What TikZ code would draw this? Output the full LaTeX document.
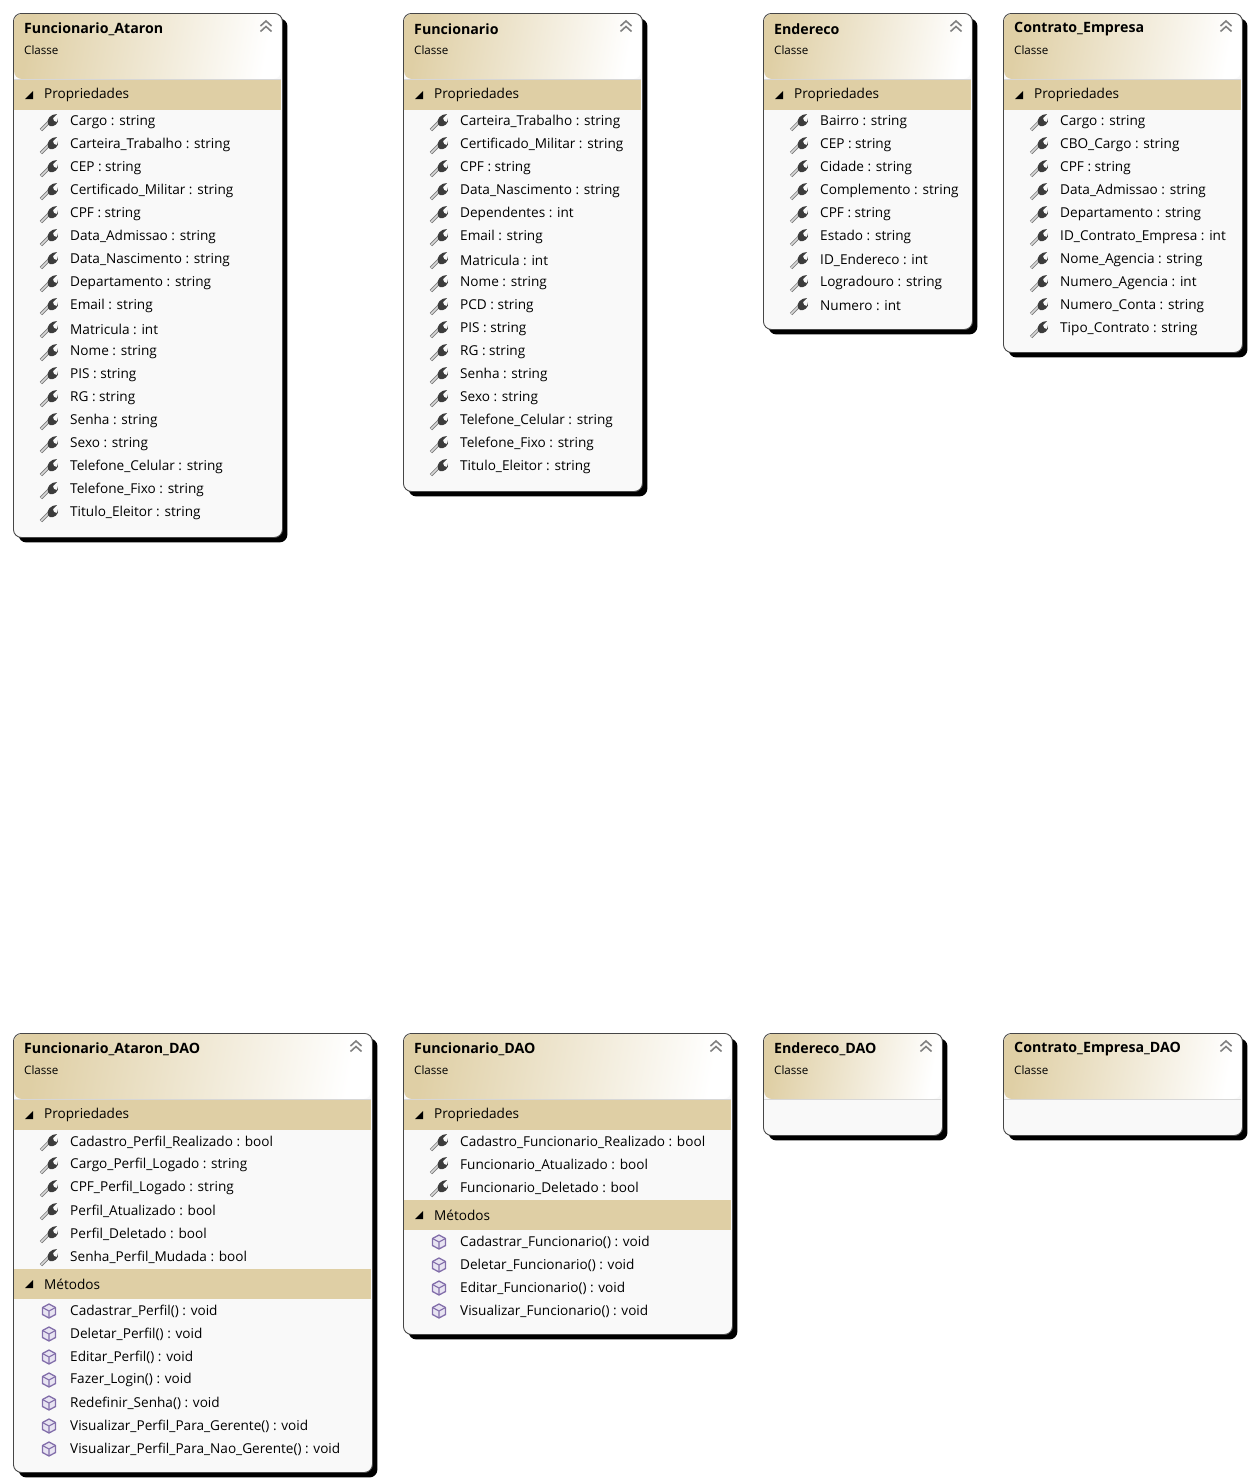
\documentclass[tikz,border=0pt]{standalone}
\usepackage{fontspec}
\setmainfont{Open Sans}
\usepackage{tikz}
\usetikzlibrary{positioning,shadows,calc}
\definecolor{hdrtan}{RGB}{223,207,165}
\definecolor{bodygray}{RGB}{249,249,249}
\definecolor{boxline}{RGB}{70,70,70}
\definecolor{rulegray}{RGB}{215,215,215}
\definecolor{cubeline}{RGB}{130,110,170}
\definecolor{cubefill}{RGB}{232,228,242}
\definecolor{wrenchgray}{RGB}{60,60,60}

\tikzset{
  classbox/.style={draw=boxline, fill=bodygray, line width=0.9pt, rounded corners=8pt, anchor=north west, inner sep=0pt,
    general shadow={fill=black, opacity=1, shadow xshift=5pt, shadow yshift=-5pt}},
  band/.style={fill=hdrtan, anchor=north west, inner sep=0pt, minimum height=30pt},
  titletxt/.style={anchor=west, inner sep=0pt, font=\fontsize{14.2}{16}\selectfont\bfseries},
  kindtxt/.style={anchor=west, inner sep=0pt, font=\fontsize{11.6}{14}\selectfont},
  bandtxt/.style={anchor=west, inner sep=0pt, font=\fontsize{13.6}{16}\selectfont},
  rowtxt/.style={anchor=west, inner sep=0pt, font=\fontsize{13.6}{16}\selectfont},
  wrench/.pic={
    \draw[line width=3.2pt, wrenchgray!70] (-8,8) -- (1,-1);
    \draw[line width=1.6pt, white!85!black, line cap=round] (-7.5,7.5) -- (0,0);
    \fill[wrenchgray] (-1,2) .. controls (-3,-3) and (2,-8) .. (8,-8) -- (4,-4) -- (5,-1) -- (8,0) -- (9,-4)
      .. controls (10,2) and (5,5) .. (1,4) -- cycle;
  },
  cube/.pic={
    \draw[cubeline, fill=cubefill, line width=1.3pt, line join=round] (0,-7) -- (6.5,-3.5) -- (6.5,3.5) -- (0,7) -- (-6.5,3.5) -- (-6.5,-3.5) -- cycle;
    \draw[cubeline, line width=1.1pt, line join=round] (-6.5,-3.5) -- (0,0) -- (6.5,-3.5) (0,0) -- (0,7);
  },
  chevrons/.pic={
    \draw[gray, line width=1.6pt] (-5.5,-1) -- (0,-6) -- (5.5,-1) (-5.5,4.5) -- (0,-0.5) -- (5.5,4.5);
  }
}

% name, x, y, width, height, title
\newcommand{\classbox}[6]{
  \pgfmathsetmacro{\innerw}{#4-2}
  \node[classbox, minimum width=#4pt, minimum height=#5pt] (#1) at (#2,#3) {};
  \begin{scope}
    \clip[rounded corners=8pt] (#2+1,#3+1) rectangle (#2+#4-1,#3+66);
    \shade[left color=hdrtan, right color=white, shading angle=80] (#2,#3) rectangle (#2+#4,#3+66);
  \end{scope}
  \draw[rulegray] (#2+1,#3+66.5) -- (#2+#4-1,#3+66.5);
  \node[titletxt] (#1-title) at (#2+11,#3+16) {#6};
  \node[kindtxt] (#1-kind) at (#2+11,#3+37) {Classe};
  \pic at (#2+#4-16,#3+14) {chevrons};
}
% band: box name, x, y of band, width, label
\newcommand{\sectionband}[5]{
  \pgfmathsetmacro{\innerw}{#4-2}
  \node[band, minimum width=\innerw pt] (#1-#5) at (#2+1,#3) {};
  \fill (#2+12,#3+19) -- (#2+20,#3+19) -- (#2+20,#3+11) -- cycle;
  \node[bandtxt] (#1-#5-txt) at (#2+31,#3+15) {#5};
}
% x, y of first row, icon, items
\newcommand{\rowlist}[4]{
  \foreach \lbl [count=\i from 0] in {#4} {
    \pic at (#1+36,#2+\i*23) {#3};
    \node[rowtxt] (row-#1-#2-\i) at (#1+57,#2+\i*23) {\lbl};
  }
}

\begin{document}
\begin{tikzpicture}[x=1pt, y=-1pt]
\useasboundingbox (0,0) rectangle (1254,1484);

% upper row
\classbox{atar}{13}{13}{269}{524}{Funcionario\_Ataron}
\sectionband{atar}{13}{80}{269}{Propriedades}
\rowlist{13}{122}{wrench}{Cargo : string, Carteira\_Trabalho : string, CEP : string, Certificado\_Militar : string, CPF : string, Data\_Admissao : string, Data\_Nascimento : string, Departamento : string, Email : string, Matricula : int, Nome : string, PIS : string, RG : string, Senha : string, Sexo : string, Telefone\_Celular : string, Telefone\_Fixo : string, Titulo\_Eleitor : string}

\classbox{func}{403}{13}{239}{478}{Funcionario}
\sectionband{func}{403}{80}{239}{Propriedades}
\rowlist{403}{122}{wrench}{Carteira\_Trabalho : string, Certificado\_Militar : string, CPF : string, Data\_Nascimento : string, Dependentes : int, Email : string, Matricula : int, Nome : string, PCD : string, PIS : string, RG : string, Senha : string, Sexo : string, Telefone\_Celular : string, Telefone\_Fixo : string, Titulo\_Eleitor : string}

\classbox{ender}{763}{13}{209}{316}{Endereco}
\sectionband{ender}{763}{80}{209}{Propriedades}
\rowlist{763}{122}{wrench}{Bairro : string, CEP : string, Cidade : string, Complemento : string, CPF : string, Estado : string, ID\_Endereco : int, Logradouro : string, Numero : int}

\classbox{contr}{1003}{13}{239}{339}{Contrato\_Empresa}
\sectionband{contr}{1003}{80}{239}{Propriedades}
\rowlist{1003}{122}{wrench}{Cargo : string, CBO\_Cargo : string, CPF : string, Data\_Admissao : string, Departamento : string, ID\_Contrato\_Empresa : int, Nome\_Agencia : string, Numero\_Agencia : int, Numero\_Conta : string, Tipo\_Contrato : string}

% lower row
\classbox{atardao}{13}{1033}{359}{439}{Funcionario\_Ataron\_DAO}
\sectionband{atardao}{13}{1100}{359}{Propriedades}
\rowlist{13}{1142}{wrench}{Cadastro\_Perfil\_Realizado : bool, Cargo\_Perfil\_Logado : string, CPF\_Perfil\_Logado : string, Perfil\_Atualizado : bool, Perfil\_Deletado : bool, Senha\_Perfil\_Mudada : bool}
\sectionband{atardao}{13}{1269}{359}{Métodos}
\rowlist{13}{1311}{cube}{Cadastrar\_Perfil() : void, Deletar\_Perfil() : void, Editar\_Perfil() : void, Fazer\_Login() : void, Redefinir\_Senha() : void, Visualizar\_Perfil\_Para\_Gerente() : void, Visualizar\_Perfil\_Para\_Nao\_Gerente() : void}

\classbox{funcdao}{403}{1033}{329}{301}{Funcionario\_DAO}
\sectionband{funcdao}{403}{1100}{329}{Propriedades}
\rowlist{403}{1142}{wrench}{Cadastro\_Funcionario\_Realizado : bool, Funcionario\_Atualizado : bool, Funcionario\_Deletado : bool}
\sectionband{funcdao}{403}{1200}{329}{Métodos}
\rowlist{403}{1242}{cube}{Cadastrar\_Funcionario() : void, Deletar\_Funcionario() : void, Editar\_Funcionario() : void, Visualizar\_Funcionario() : void}

\classbox{enderdao}{763}{1033}{179}{102}{Endereco\_DAO}
\classbox{contrdao}{1003}{1033}{239}{102}{Contrato\_Empresa\_DAO}
\end{tikzpicture}
\end{document}
